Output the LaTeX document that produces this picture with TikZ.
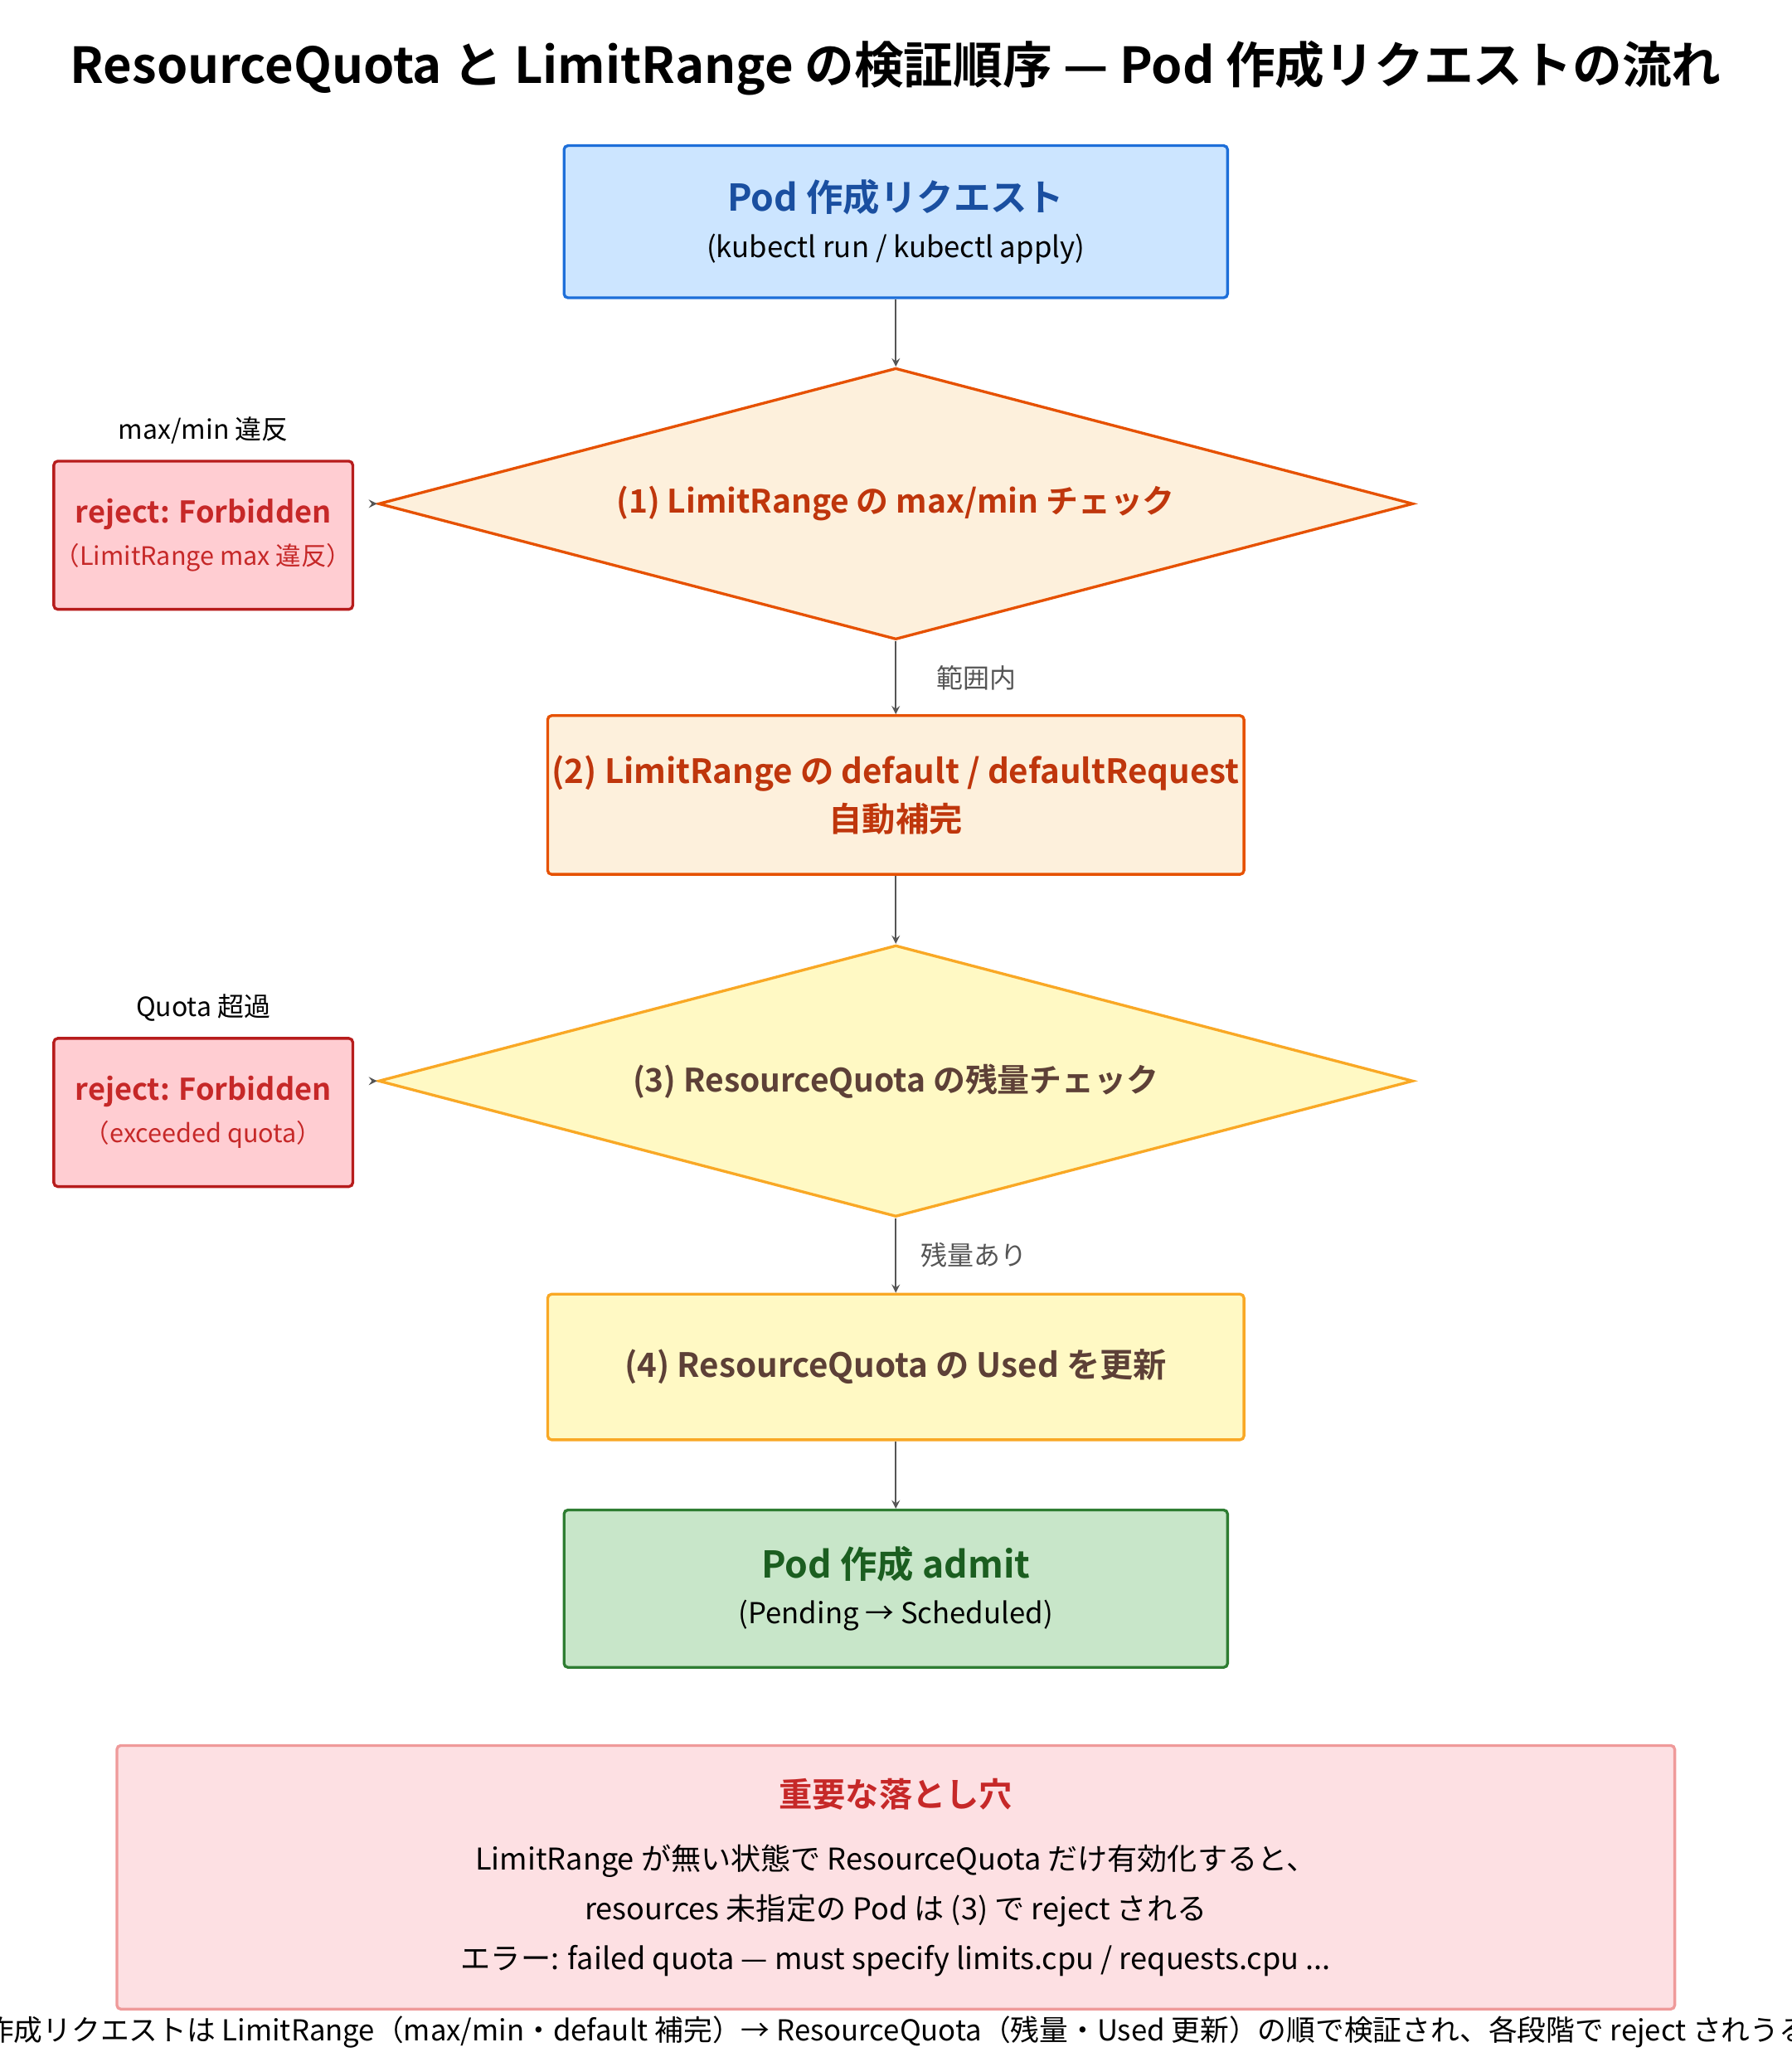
\documentclass[tikz,border=0pt]{standalone}
\usepackage{fontspec}
\setmainfont{Noto Sans CJK JP}[BoldFont={Noto Sans CJK JP Bold}]
\usetikzlibrary{shapes.geometric}
\definecolor{reqfill}{HTML}{CCE5FF}\definecolor{reqline}{HTML}{1E6FD9}\definecolor{reqtext}{HTML}{1A4FA0}
\definecolor{lrfill}{HTML}{FDF0DC}\definecolor{lrline}{HTML}{E65100}\definecolor{lrtext}{HTML}{BF360C}
\definecolor{rqfill}{HTML}{FFF9C4}\definecolor{rqline}{HTML}{F9A825}\definecolor{rqtext}{HTML}{5D4037}
\definecolor{rjfill}{HTML}{FFCDD2}\definecolor{rjline}{HTML}{B71C1C}\definecolor{rjtext}{HTML}{C62828}
\definecolor{okfill}{HTML}{C8E6C9}\definecolor{okline}{HTML}{2E7D32}\definecolor{oktext}{HTML}{1B5E20}
\definecolor{notefill}{HTML}{FDE0E3}\definecolor{noteline}{HTML}{EF9A9A}
\definecolor{arrgray}{HTML}{555555}
\begin{document}
\begin{tikzpicture}[
    x=0.02cm, y=-0.02cm,
    box/.style={draw, rounded corners=0.06cm, line width=1.2pt, align=center, inner sep=0pt},
    check/.style={diamond, draw, line width=1.2pt, aspect=3.81, inner sep=0pt,
        minimum width=15.78cm, minimum height=4.14cm, font=\bfseries\fontsize{14}{16}\selectfont},
    reject/.style={box, fill=rjfill, draw=rjline, text=rjtext, minimum width=4.56cm, minimum height=2.26cm},
    lbl/.style={font=\fontsize{11.5}{13}\selectfont},
    arr/.style={->, >=stealth, arrgray, line width=0.6pt}]
    % Page frame
    \useasboundingbox (0,0) rectangle (1366,1568);

    % Title
    \node[font=\bfseries\fontsize{21.5}{24}\selectfont] (title) at (683,52)
        {ResourceQuota と LimitRange の検証順序 — Pod 作成リクエストの流れ};

    % Request
    \node[box, fill=reqfill, draw=reqline, minimum width=10.12cm, minimum height=2.32cm] (req) at (683,169)
        {{\bfseries\fontsize{16}{20}\selectfont\color{reqtext}Pod 作成リクエスト}\\[8pt]
         {\fontsize{12.5}{15}\selectfont (kubectl run / kubectl apply)}};

    % (1) max/min check
    \node[check, fill=lrfill, draw=lrline, text=lrtext] (lrcheck) at (683,384)
        {(1) LimitRange の max/min チェック};
    \node[reject] (rej1) at (155,408)
        {{\bfseries\fontsize{13}{16}\selectfont reject: Forbidden}\\[5pt]
         {\fontsize{11}{14}\selectfont（LimitRange max 違反）}};
    \node[lbl] (rej1lbl) at (155,328) {max/min 違反};

    % (2) defaults
    \node[box, fill=lrfill, draw=lrline, text=lrtext, minimum width=10.62cm, minimum height=2.42cm,
        font=\bfseries\fontsize{14.5}{21}\selectfont] (lrdef) at (683,606)
        {(2) LimitRange の default / defaultRequest\\ 自動補完};

    % (3) quota check
    \node[check, fill=rqfill, draw=rqline, text=rqtext] (rqcheck) at (683,824)
        {(3) ResourceQuota の残量チェック};
    \node[reject] (rej2) at (155,848)
        {{\bfseries\fontsize{13}{16}\selectfont reject: Forbidden}\\[5pt]
         {\fontsize{11}{14}\selectfont（exceeded quota）}};
    \node[lbl] (rej2lbl) at (155,768) {Quota 超過};

    % (4) update used
    \node[box, fill=rqfill, draw=rqline, text=rqtext, minimum width=10.62cm, minimum height=2.22cm,
        font=\bfseries\fontsize{14.5}{16}\selectfont] (rqused) at (683,1042)
        {(4) ResourceQuota の Used を更新};

    % Admit
    \node[box, fill=okfill, draw=okline, minimum width=10.12cm, minimum height=2.4cm] (admit) at (683,1211)
        {{\bfseries\fontsize{16}{20}\selectfont\color{oktext}Pod 作成 admit}\\[8pt]
         {\fontsize{12.5}{15}\selectfont (Pending → Scheduled)}};

    % Connectors
    \draw[arr] (req) -- (lrcheck);
    \draw[arr] (lrcheck) -- node[right, lbl, xshift=0.5cm] {範囲内} (lrdef);
    \draw[arr] (lrdef) -- (rqcheck);
    \draw[arr] (rqcheck) -- node[right, lbl, xshift=0.25cm] {残量あり} (rqused);
    \draw[arr] (rqused) -- (admit);
    \draw[arr] ([xshift=-0.06cm]lrcheck.west) -- (lrcheck.west);
    \draw[arr] ([xshift=-0.06cm]rqcheck.west) -- (rqcheck.west);

    % Pitfall note
    \node[box, fill=notefill, draw=noteline, minimum width=23.76cm, minimum height=4.02cm,
        font=\fontsize{13}{21.5}\selectfont] (note) at (683,1431)
        {{\bfseries\fontsize{14.5}{16}\selectfont\color{rjtext}重要な落とし穴}\\[6pt]
         LimitRange が無い状態で ResourceQuota だけ有効化すると、\\
         resources 未指定の Pod は (3) で reject される\\
         エラー: failed quota — must specify limits.cpu / requests.cpu ...};

    % Caption
    \node[font=\fontsize{12.5}{15}\selectfont] (caption) at (672,1549)
        {Pod 作成リクエストは LimitRange（max/min・default 補完）→ ResourceQuota（残量・Used 更新）の順で検証され、各段階で reject されうる。};
\end{tikzpicture}
\end{document}
